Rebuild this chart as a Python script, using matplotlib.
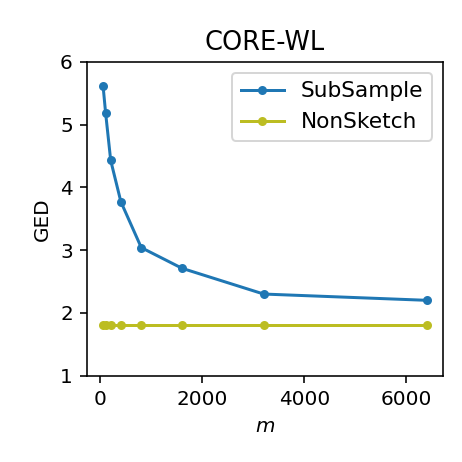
import matplotlib
matplotlib.use("Agg")
import matplotlib.pyplot as plt

m_values = [50, 100, 200, 400, 800, 1600, 3200, 6400]
subsample = [5.62, 5.19, 4.43, 3.77, 3.04, 2.71, 2.30, 2.20]
nonsketch = [1.81, 1.81, 1.81, 1.81, 1.81, 1.81, 1.81, 1.81]

fig = plt.figure(figsize=(462 / 144, 462 / 144), dpi=144)
ax = fig.add_axes([0.188, 0.187, 0.771, 0.679])

ax.plot(m_values, subsample, marker="o", markersize=3.5, color="tab:blue", label="SubSample")
ax.plot(m_values, nonsketch, marker="o", markersize=3.5, color="tab:olive", label="NonSketch")

ax.set_ylim(1, 6)
ax.set_xticks([0, 2000, 4000, 6000])
ax.set_title("CORE-WL", fontsize=12.8)
ax.set_xlabel("$m$")
ax.set_ylabel("GED")
ax.legend(loc="upper right", fontsize=10.8)

fig.savefig("out.png", dpi=144)
